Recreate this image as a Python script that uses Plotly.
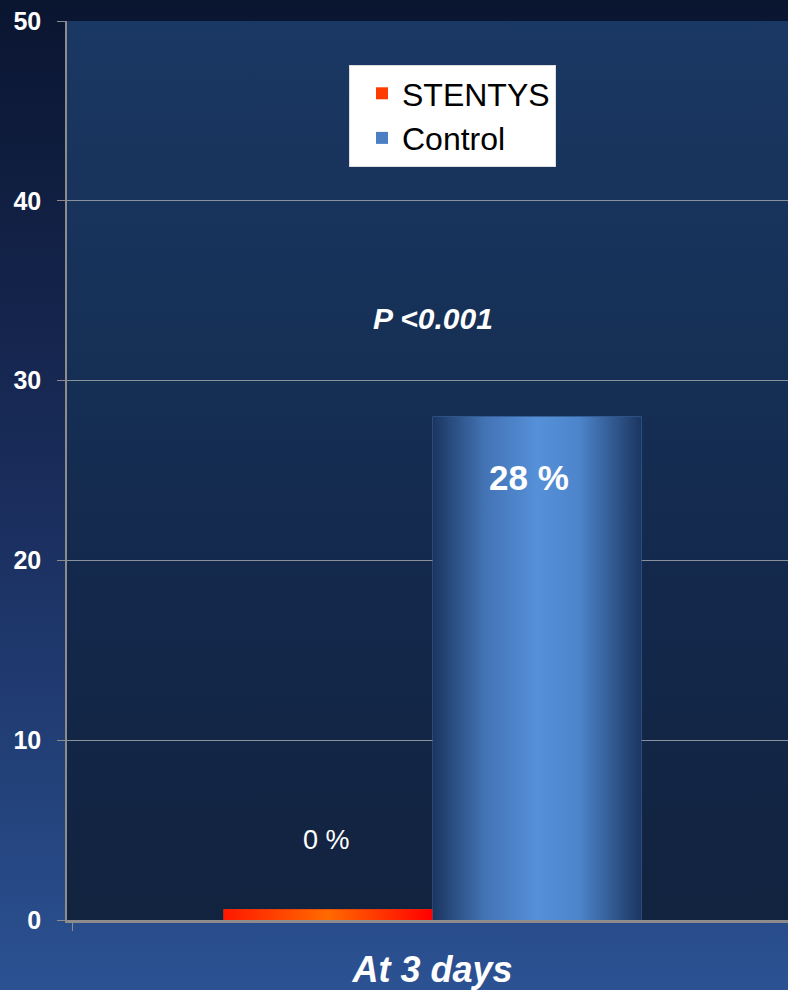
import base64
import plotly.graph_objects as go

# ---- data ----
categories = ["At 3 days"]
series_names = ["STENTYS", "Control"]
stentys_values = [0.6]      # drawn as a thin sliver; labelled 0 %
control_values = [28]
value_labels = ["0 %", "28 %"]
y_ticks = [0, 10, 20, 30, 40, 50]
p_text = "P <0.001"

FONT = "Arial, Liberation Sans, sans-serif"
BARGAP = 0.42
XRANGE = [-0.507, 0.493]


def svg_uri(svg):
    return "data:image/svg+xml;base64," + base64.b64encode(svg.encode()).decode()


def vgrad(stops):
    s = "".join(f'<stop offset="{o}" stop-color="{c}"/>' for o, c in stops)
    return svg_uri(
        '<svg xmlns="http://www.w3.org/2000/svg" width="100" height="100" preserveAspectRatio="none">'
        f'<defs><linearGradient id="g" x1="0" y1="0" x2="0" y2="1">{s}</linearGradient></defs>'
        '<rect width="100" height="100" fill="url(#g)"/></svg>')


def hgrad(stops):
    s = "".join(f'<stop offset="{o}" stop-color="{c}"/>' for o, c in stops)
    return svg_uri(
        '<svg xmlns="http://www.w3.org/2000/svg" width="100" height="100" preserveAspectRatio="none">'
        f'<defs><linearGradient id="g" x1="0" y1="0" x2="1" y2="0">{s}</linearGradient></defs>'
        '<rect width="100" height="100" fill="url(#g)"/></svg>')


fig = go.Figure()
fig.add_trace(go.Bar(x=categories, y=stentys_values, name=series_names[0],
                     marker=dict(color="#ff3c00", line=dict(width=0)),
                     legendgroup="a"))
fig.add_trace(go.Bar(x=categories, y=control_values, name=series_names[1],
                     marker=dict(color="#4a7fc4", line=dict(width=0)),
                     legendgroup="b"))

# geometry of the bars derived from the axis/bargap
bw = (1 - BARGAP) / 2
bar_centers = [-bw / 2, bw / 2]
bar_vals = [stentys_values[0], control_values[0]]
grads = [
    hgrad([(0, "#ff1800"), (0.5, "#ff6a00"), (1, "#ff0000")]),
    hgrad([(0, "#1b3560"), (0.25, "#4373b4"), (0.5, "#5590d8"), (0.7, "#4d85cb"), (1, "#1b3560")]),
]

images = [
    # page background
    dict(source=vgrad([(0, "#0a1530"), (0.5, "#1a2d5c"), (0.8, "#23427b"), (1, "#2c5293")]),
         xref="paper", yref="paper", x=-67 / 721, y=1 + 21 / 899,
         sizex=1 + 67 / 721, sizey=1 + 91 / 899, sizing="stretch",
         xanchor="left", yanchor="top", layer="below"),
    # plot area background
    dict(source=vgrad([(0, "#1a3864"), (0.35, "#163056"), (0.65, "#13284b"), (1, "#12233f")]),
         xref="paper", yref="paper", x=0, y=1, sizex=1, sizey=1, sizing="stretch",
         xanchor="left", yanchor="top", layer="below"),
]
for c, v, g in zip(bar_centers, bar_vals, grads):
    images.append(dict(source=g, xref="x", yref="y", x=c - bw / 2, y=v,
                       sizex=bw, sizey=v, sizing="stretch",
                       xanchor="left", yanchor="top", layer="above"))

annotations = [
    dict(x=bar_centers[0], y=bar_vals[0], xref="x", yref="y", text=value_labels[0],
         showarrow=False, xanchor="center", yanchor="bottom", yshift=52, xshift=-2,
         font=dict(family=FONT, size=27, color="white")),
    dict(x=bar_centers[1], y=bar_vals[1], xref="x", yref="y", text=f"<b>{value_labels[1]}</b>",
         showarrow=False, xanchor="center", yanchor="middle", yshift=-61, xshift=-8,
         font=dict(family=FONT, size=35, color="white")),
    dict(x=(433 - 67) / 721, y=(920 - 318) / 899, xref="paper", yref="paper",
         text=f"<b><i>{p_text}</i></b>", showarrow=False,
         xanchor="center", yanchor="middle",
         font=dict(family=FONT, size=30, color="white")),
]

fig.update_layout(
    width=788, height=990,
    margin=dict(l=67, r=0, t=21, b=70),
    paper_bgcolor="#1a2d5c",
    plot_bgcolor="rgba(0,0,0,0)",
    barmode="group", bargap=BARGAP, bargroupgap=0,
    images=images,
    annotations=annotations,
    showlegend=True,
    legend=dict(x=(349 - 67) / 721, y=1 - (65 - 21) / 899, xanchor="left", yanchor="top",
                bgcolor="white", bordercolor="#dddddd", borderwidth=1,
                font=dict(family=FONT, size=32, color="black"),
                tracegroupgap=14, traceorder="normal", indentation=12,
                itemwidth=30, entrywidth=200, entrywidthmode="pixels"),
    xaxis=dict(range=XRANGE, tickmode="array", tickvals=[0],
               ticktext=[f"<b><i>{categories[0]}</i></b>"],
               tickfont=dict(family=FONT, size=36, color="white"),
               ticks="outside", tickson="boundaries", ticklen=8, tickcolor="#8c8c8c",
               showline=True, linecolor="#8c8c8c", linewidth=3,
               showgrid=False, zeroline=False, ticklabelstandoff=16),
    yaxis=dict(range=[0, 50], tickvals=y_ticks,
               ticktext=[f"<b>{t}</b>" for t in y_ticks],
               tickfont=dict(family=FONT, size=25, color="white"),
               ticks="outside", ticklen=8, tickcolor="#8c8c8c",
               showline=True, linecolor="#8c8c8c", linewidth=1.5,
               showgrid=True, gridcolor="#8a909c", gridwidth=1,
               zeroline=False, ticklabelstandoff=11),
)

fig.write_html("out.html")
